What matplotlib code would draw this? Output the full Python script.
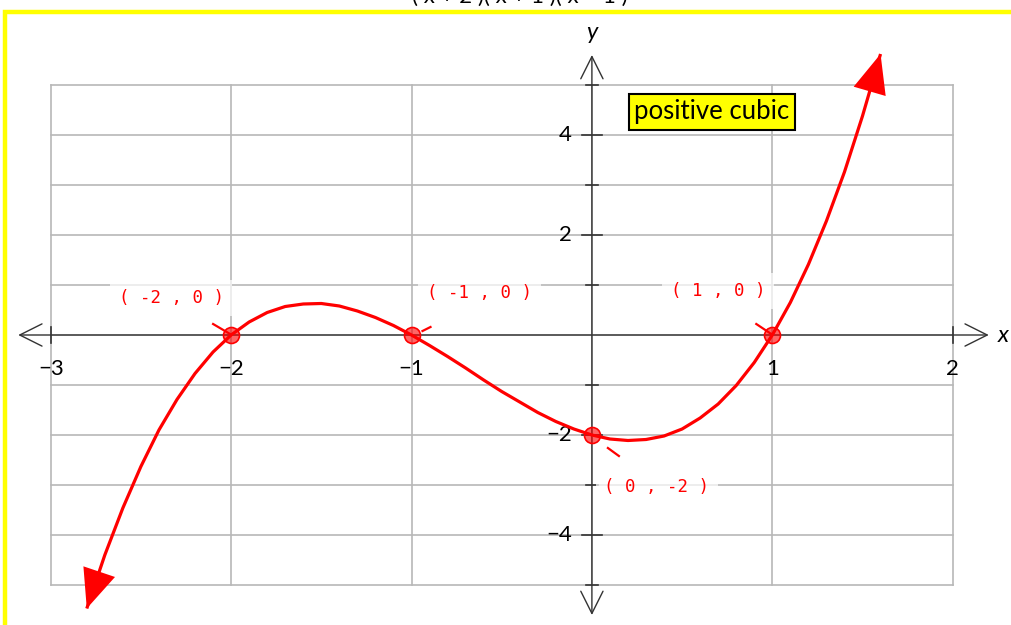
import matplotlib
matplotlib.use("Agg")
import matplotlib.pyplot as plt
from matplotlib.patches import Rectangle

plt.rcParams['font.family'] = ['Lato', 'DejaVu Sans']

# curve
curve_x = [-2.8, -2.7, -2.6, -2.5, -2.4, -2.3, -2.2, -2.1, -2.0, -1.9, -1.8, -1.7,
           -1.6, -1.5, -1.4, -1.3, -1.2, -1.1, -1.0, -0.9, -0.8, -0.7, -0.6, -0.5,
           -0.4, -0.3, -0.2, -0.1, 0.0, 0.1, 0.2, 0.3, 0.4, 0.5, 0.6, 0.7, 0.8,
           0.9, 1.0, 1.1, 1.2, 1.3, 1.4, 1.5, 1.6]
curve_y = [-5.47, -4.40, -3.46, -2.63, -1.90, -1.29, -0.77, -0.34, 0.00, 0.26, 0.45, 0.57,
           0.62, 0.63, 0.58, 0.48, 0.35, 0.19, 0.00, -0.21, -0.43, -0.66, -0.90, -1.13,
           -1.34, -1.55, -1.73, -1.88, -2.00, -2.08, -2.11, -2.09, -2.02, -1.88, -1.66, -1.38, -1.01,
           -0.55, 0.00, 0.65, 1.41, 2.28, 3.26, 4.38, 5.62]

# marked points
pts_x = [-2, -1, 1, 0]
pts_y = [0, 0, 0, -2]

x_ticks = [-3, -2, -1, 1, 2]
y_ticks = [4, 2, -2, -4]
title_text = "positive cubic"
top_text = "( x + 2 )( x + 1 )( x − 1 )"

PX = 180.4   # px per x unit
PY = 50.0    # px per y unit

fig = plt.figure(figsize=(10.11, 6.25), dpi=100)
ax = fig.add_axes([0, 0, 1, 1])
ax.set_xlim(-591.9 / PX, (1011 - 591.9) / PX)
ax.set_ylim(-(625 - 335) / PY, 335 / PY)
ax.axis('off')

grid_c = '#b8b8b8'
for gx in range(-3, 3):
    ax.plot([gx, gx], [-5, 5], color=grid_c, lw=1.2, zorder=1)
for gy in range(-5, 6):
    ax.plot([-3, 2], [gy, gy], color=grid_c, lw=1.2, zorder=1)

axc = '#333333'
arrow_ax = dict(arrowstyle='<->,head_length=1.6,head_width=0.8', color=axc,
                lw=1.0, shrinkA=0, shrinkB=0, mutation_scale=10)
ax.annotate('', xy=(2.2, 0), xytext=(-3.18, 0), arrowprops=arrow_ax, zorder=3)
ax.annotate('', xy=(0, 5.6), xytext=(0, -5.6), arrowprops=arrow_ax, zorder=3)

# ticks
for gx in [-3, 2]:
    ax.plot([gx, gx], [-8 / PY, 8 / PY], color=axc, lw=1.2, zorder=3)
for gy in range(-5, 6):
    if gy == 0:
        continue
    half = 10 if gy % 2 == 0 else 6
    ax.plot([-half / PX, half / PX], [gy, gy], color=axc, lw=1.2, zorder=3)

for t in x_ticks:
    ax.text(t, -34 / PY, f"{t}".replace('-', '\u2212'), ha='center', va='center',
            fontsize=16, color='black', zorder=4)
for t in y_ticks:
    ax.text(-20 / PX, t, f"{t}".replace('-', '\u2212'), ha='right', va='center',
            fontsize=16, color='black', zorder=4)

ax.text(2.25, 0, 'x', fontsize=17, style='italic', ha='left', va='center')
ax.text(0, 6.05, 'y', fontsize=17, style='italic', ha='center', va='center')

# curve with arrowheads
red = '#ff0000'
ax.plot(curve_x, curve_y, color=red, lw=2.3, zorder=5, solid_capstyle='butt')
arrow_c = dict(arrowstyle='-|>,head_length=1.4,head_width=0.6', color=red,
               lw=0, shrinkA=0, shrinkB=0, mutation_scale=20)
ax.annotate('', xy=(curve_x[0], curve_y[0]), xytext=(curve_x[1], curve_y[1]),
            arrowprops=arrow_c, zorder=6)
ax.annotate('', xy=(curve_x[-1], curve_y[-1]), xytext=(curve_x[-2], curve_y[-2]),
            arrowprops=arrow_c, zorder=6)

# points
ax.plot(pts_x, pts_y, 'o', ms=11.5, mfc=(1, 0, 0, 0.6), mec=red, mew=1.2, zorder=7)

# labels: offsets of label centre and leader dash (px)
lab_off = [(-60, 37), (68, 42), (-54, 44), (65, -52)]
dash_off = [((-18, 11), (-1, 1)), ((11, 4), (19, 8)), ((-16, 11), (-1, 1)),
            ((16, -13), (27, -21))]
for px_, py_, lo, do in zip(pts_x, pts_y, lab_off, dash_off):
    lbl = f"( {px_} , {py_} )"
    ax.text(px_ + lo[0] / PX, py_ + lo[1] / PY, lbl, color=red, fontsize=12.5,
            family='DejaVu Sans Mono', ha='center', va='center', zorder=4,
            bbox=dict(boxstyle='square,pad=0.5', fc='white', ec='none', alpha=0.7))
    (a, b), (c, d) = do
    ax.plot([px_ + a / PX, px_ + c / PX], [py_ + b / PY, py_ + d / PY],
            color=red, lw=1.6, zorder=6)

ax.text(120 / PX, 4.46, title_text, fontsize=18.5, ha='center', va='center', zorder=8,
        bbox=dict(boxstyle='square,pad=0.22', fc='#ffff00', ec='black', lw=1.5))

# yellow frame of the slide
fig.patches.append(Rectangle((5 / 1011, -0.1), 1.2, 1.1 - 12 / 625, transform=fig.transFigure,
                             fill=False, ec='#ffff00', lw=3.2, zorder=10))
fig.text(520 / 1011, 1 - 3 / 625, top_text, fontsize=16, ha='center', va='baseline')

fig.savefig('out.png', dpi=100)
